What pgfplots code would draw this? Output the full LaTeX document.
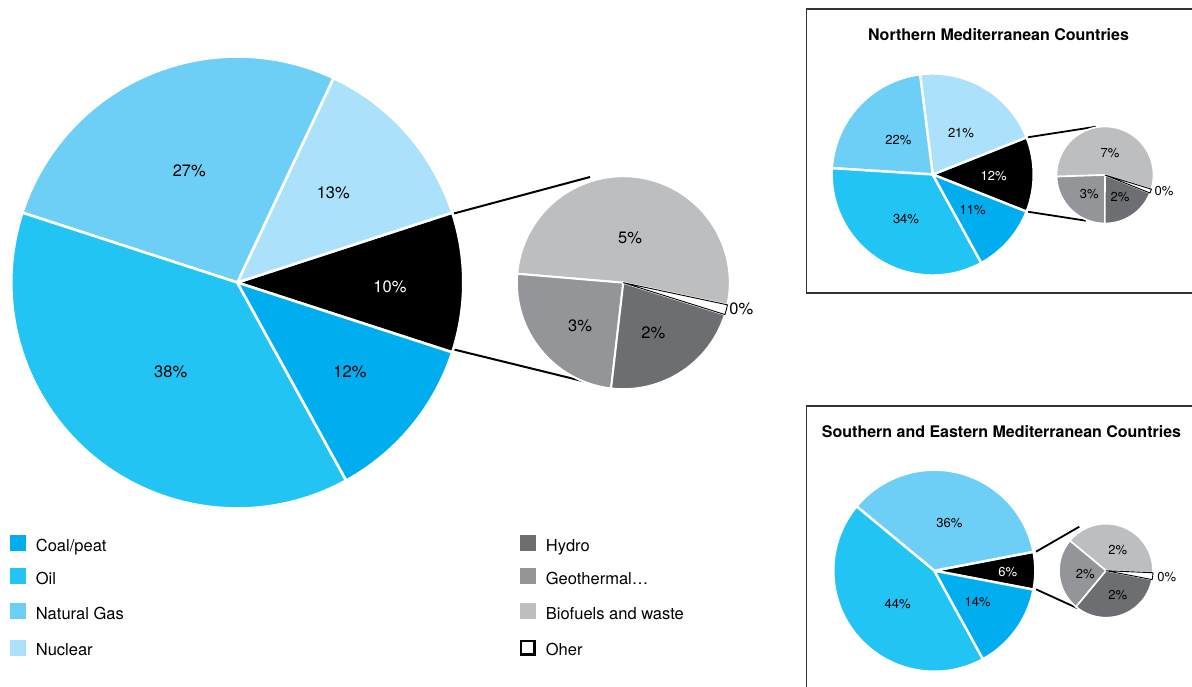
\documentclass[border=0pt]{standalone}
\usepackage{fontspec}
\setmainfont{TeX Gyre Heros}
\usepackage{pgfplots}
\pgfplotsset{compat=1.18}
\definecolor{coal}{HTML}{00AEEF}
\definecolor{oil}{HTML}{21C4F3}
\definecolor{gas}{HTML}{6DCFF6}
\definecolor{nuclear}{HTML}{ABE1FA}
\definecolor{hydro}{HTML}{6D6E71}
\definecolor{geo}{HTML}{939598}
\definecolor{bio}{HTML}{BCBEC0}
\definecolor{boxgray}{HTML}{333333}
% #1 cx, #2 cy, #3 radius, #4 start angle, #5 degrees per unit, #6 cumulative value, #7 value, #8 colour, #9 border width
\newcommand{\pieslice}[9]{%
  \filldraw[fill=#8, draw=white, line width=#9, line join=round]
    (axis cs:#1,#2) -- ++({#4+#5*#6}:#3pt)
    arc[start angle={#4+#5*#6}, delta angle={#5*#7}, radius=#3pt] -- cycle;}
\newcommand{\otherslice}[7]{%
  \filldraw[fill=white, draw=black, line width=0.9pt, line join=round]
    (axis cs:#1,#2) -- ++({#4+#5*#6}:#3pt)
    arc[start angle={#4+#5*#6}, delta angle={#5*#7}, radius=#3pt] -- cycle;}
\begin{document}
\begin{tikzpicture}
\begin{axis}[name=ax, x=1pt, y=1pt, xmin=0, xmax=1192, ymin=0, ymax=687, y dir=reverse,
  hide axis, xtick=\empty, ytick=\empty, clip=false, scale only axis]
% ---------- connectors ----------
\draw[black, line width=2pt] (axis cs:452,214) -- (axis cs:590,177);
\draw[black, line width=2pt] (axis cs:452,349) -- (axis cs:611,388);
\draw[black, line width=1.8pt] (axis cs:1027.7,137.3) -- (axis cs:1096,126.7);
\draw[black, line width=1.8pt] (axis cs:1027.7,211.7) -- (axis cs:1086,220.7);
\draw[black, line width=1.8pt] (axis cs:1036,551.7) -- (axis cs:1079.3,526.7);
\draw[black, line width=1.8pt] (axis cs:1036,589.3) -- (axis cs:1077.7,608.3);
% ---------- main pie (all Mediterranean) ----------
\pieslice{237.3}{282.5}{226}{-18}{3.6}{0}{10}{black}{2.6pt}
\pieslice{237.3}{282.5}{226}{-18}{3.6}{10}{13}{nuclear}{2.6pt}
\pieslice{237.3}{282.5}{226}{-18}{3.6}{23}{27}{gas}{2.6pt}
\pieslice{237.3}{282.5}{226}{-18}{3.6}{50}{38}{oil}{2.6pt}
\pieslice{237.3}{282.5}{226}{-18}{3.6}{88}{12}{coal}{2.6pt}
% secondary pie of "other" (10%)
\pieslice{623.3}{282.7}{106.5}{-12}{36}{0}{5.2}{bio}{2pt}
\pieslice{623.3}{282.7}{106.5}{-12}{36}{5.2}{2.45}{geo}{2pt}
\pieslice{623.3}{282.7}{106.5}{-12}{36}{7.65}{2.2}{hydro}{2pt}
\otherslice{623.3}{282.7}{106.5}{-12}{36}{9.85}{0.15}
% labels
\begin{scope}[every node/.style={font=\fontsize{16.5}{18}\selectfont, inner sep=0pt}]
\node at (axis cs:189.3,170.7) {27\%};
\node at (axis cs:333.3,192.7) {13\%};
\node[text=white] at (axis cs:390,286.7) {10\%};
\node at (axis cs:170.7,371.7) {38\%};
\node at (axis cs:350,371.7) {12\%};
\node at (axis cs:630,237.7) {5\%};
\node at (axis cs:580,325.7) {3\%};
\node at (axis cs:653.3,333.3) {2\%};
\node at (axis cs:741.3,309.3) {0\%};
\end{scope}
% ---------- inset 1: Northern ----------
\draw[boxgray, line width=1.8pt] (axis cs:1193,9) -- (axis cs:806.5,9) -- (axis cs:806.5,293.3) -- (axis cs:1193,293.3);
\node[font=\fontsize{16}{18}\selectfont\bfseries, inner sep=0pt] at (axis cs:998.5,35) {Northern Mediterranean Countries};
\pieslice{932.7}{174.5}{101}{-21.6}{3.6}{0}{12}{black}{2.4pt}
\pieslice{932.7}{174.5}{101}{-21.6}{3.6}{12}{21}{nuclear}{2.4pt}
\pieslice{932.7}{174.5}{101}{-21.6}{3.6}{33}{22}{gas}{2.4pt}
\pieslice{932.7}{174.5}{101}{-21.6}{3.6}{55}{34}{oil}{2.4pt}
\pieslice{932.7}{174.5}{101}{-21.6}{3.6}{89}{11}{coal}{2.4pt}
\pieslice{1105}{175}{48.5}{-17}{30}{0}{6.63}{bio}{1.6pt}
\pieslice{1105}{175}{48.5}{-17}{30}{6.63}{2.93}{geo}{1.6pt}
\pieslice{1105}{175}{48.5}{-17}{30}{9.56}{2.28}{hydro}{1.6pt}
\otherslice{1105}{175}{48.5}{-17}{30}{11.84}{0.16}
\begin{scope}[every node/.style={font=\fontsize{13}{15}\selectfont, inner sep=0pt}]
\node at (axis cs:898.3,140) {22\%};
\node at (axis cs:961,133.3) {21\%};
\node[text=white] at (axis cs:993.7,175.7) {12\%};
\node at (axis cs:972.7,210) {11\%};
\node at (axis cs:906,219) {34\%};
\node at (axis cs:1110,152.7) {7\%};
\node at (axis cs:1089.3,194) {3\%};
\node at (axis cs:1120,196.7) {2\%};
\node at (axis cs:1164,190.7) {0\%};
\end{scope}
% ---------- inset 2: Southern and Eastern ----------
\draw[boxgray, line width=1.8pt] (axis cs:1193,405.7) -- (axis cs:806.5,405.7) -- (axis cs:806.5,688);
\node[font=\fontsize{16}{18}\selectfont\bfseries, inner sep=0pt] at (axis cs:1001.5,431.7) {Southern and Eastern Mediterranean Countries};
\pieslice{934.3}{570.7}{101}{-10.8}{3.6}{0}{6}{black}{2.4pt}
\pieslice{934.3}{570.7}{101}{-10.8}{3.6}{6}{36}{gas}{2.4pt}
\pieslice{934.3}{570.7}{101}{-10.8}{3.6}{42}{44}{oil}{2.4pt}
\pieslice{934.3}{570.7}{101}{-10.8}{3.6}{86}{14}{coal}{2.4pt}
\pieslice{1106}{570.7}{47}{-2.5}{60}{0}{2.38}{bio}{1.6pt}
\pieslice{1106}{570.7}{47}{-2.5}{60}{2.38}{1.5}{geo}{1.6pt}
\pieslice{1106}{570.7}{47}{-2.5}{60}{3.88}{1.98}{hydro}{1.6pt}
\otherslice{1106}{570.7}{47}{-2.5}{60}{5.86}{0.14}
\begin{scope}[every node/.style={font=\fontsize{13}{15}\selectfont, inner sep=0pt}]
\node at (axis cs:949.3,522.7) {36\%};
\node[text=white] at (axis cs:1007.7,572.3) {6\%};
\node at (axis cs:977.7,601.7) {14\%};
\node at (axis cs:897.7,604) {44\%};
\node at (axis cs:1117.7,550) {2\%};
\node at (axis cs:1085.3,574) {2\%};
\node at (axis cs:1117.7,595) {2\%};
\node at (axis cs:1166.7,576.7) {0\%};
\end{scope}
% ---------- legend ----------
\fill[coal] (axis cs:10,535) rectangle (axis cs:25.7,550.7);
\fill[oil] (axis cs:10,568.3) rectangle (axis cs:25.7,584);
\fill[gas] (axis cs:10,603.3) rectangle (axis cs:25.7,619);
\fill[nuclear] (axis cs:10,640) rectangle (axis cs:25.7,655.7);
\fill[hydro] (axis cs:520,535) rectangle (axis cs:535.7,550.7);
\fill[geo] (axis cs:520,568.3) rectangle (axis cs:535.7,584);
\fill[bio] (axis cs:520,603.3) rectangle (axis cs:535.7,619);
\draw[black, fill=white, line width=2.4pt] (axis cs:521.2,641.2) rectangle (axis cs:534.5,654.5);
\begin{scope}[every node/.style={font=\fontsize{16.5}{18}\selectfont, inner sep=0pt, anchor=base west}]
\node at (axis cs:35.7,551.3) {Coal/peat};
\node at (axis cs:35.7,584.6) {Oil};
\node at (axis cs:35.7,619.6) {Natural Gas};
\node at (axis cs:35.7,655.6) {Nuclear};
\node at (axis cs:545.7,551.3) {Hydro};
\node at (axis cs:545.7,584.6) {Geothermal\ldots};
\node at (axis cs:545.7,619.6) {Biofuels and waste};
\node at (axis cs:545.7,655.6) {Oher};
\end{scope}
\end{axis}
\pgfresetboundingbox
\path (ax.south west) rectangle (ax.north east);
\end{tikzpicture}
\end{document}
